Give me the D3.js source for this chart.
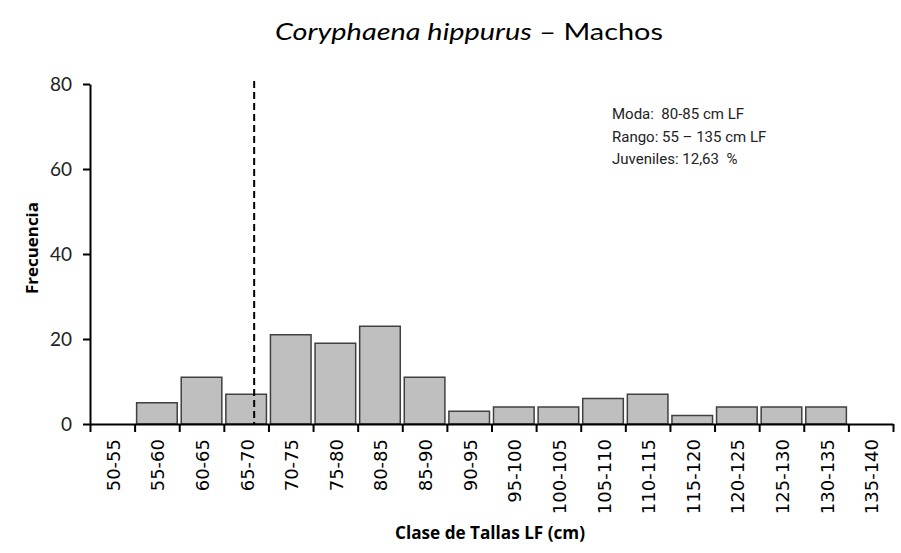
<!DOCTYPE html>
<html lang="es">
<head>
<meta charset="UTF-8"/>
<title>Coryphaena hippurus - Machos</title>
<script src="https://d3js.org/d3.v7.min.js"></script>
<style>
	body { margin: 0; background: #fff; }
</style>
</head>
<body>
<script>
var w = 901;
var h = 553;

// clases de talla (cm LF) y frecuencias
var clases = ["50-55", "55-60", "60-65", "65-70", "70-75", "75-80", "80-85", "85-90", "90-95",
	"95-100", "100-105", "105-110", "110-115", "115-120", "120-125", "125-130", "130-135", "135-140"];
var frecuencias = [0, 5, 11, 7, 21, 19, 23, 11, 3, 4, 4, 6, 7, 2, 4, 4, 4, 0];
var yTicks = [0, 20, 40, 60, 80];
var tallaCorte = 68.4;	// linea discontinua (talla de madurez)
var notas = ["Moda:  80-85 cm LF", "Rango: 55 \u2013 135 cm LF", "Juveniles: 12,63  %"];

var mLeft = 90, mRight = 893, mTop = 84, mBottom = 424;

var limites = clases.map(function (c) { return +c.split("-")[0]; });

var x = d3.scaleLinear()
	.domain([50, 140])
	.range([mLeft, mRight]);

var y = d3.scaleLinear()
	.domain([0, 80])
	.range([mBottom, mTop]);

var svg = d3.select("body")
	.append("svg")
	.attr("width", w)
	.attr("height", h);

// titulo
var title = svg.append("text")
	.attr("x", 469)
	.attr("y", 40)
	.attr("text-anchor", "middle")
	.attr("font-family", "Lato, sans-serif")
	.attr("font-size", "23px")
	.attr("fill", "#000")
	.attr("textLength", 388)
	.attr("lengthAdjust", "spacingAndGlyphs");
title.append("tspan").attr("font-style", "italic").text("Coryphaena hippurus");
title.append("tspan").text(" \u2013 Machos");

// barras
svg.selectAll("rect.bar")
	.data(clases)
	.enter()
	.append("rect")
	.attr("class", "bar")
	.attr("x", function (d, i) { return x(limites[i]) + 2; })
	.attr("width", function (d, i) { return x(limites[i] + 5) - x(limites[i]) - 4; })
	.attr("y", function (d, i) { return y(frecuencias[i]); })
	.attr("height", function (d, i) { return mBottom - y(frecuencias[i]); })
	.attr("fill", "#bfbfbf")
	.attr("stroke", "#404040")
	.attr("stroke-width", 1.5)
	.style("display", function (d, i) { return frecuencias[i] > 0 ? null : "none"; });

// eje y
var yAxis = d3.axisLeft(y)
	.tickValues(yTicks)
	.tickSize(7)
	.tickSizeOuter(0);
var gy = svg.append("g")
	.attr("transform", "translate(" + mLeft + ",0)")
	.call(yAxis);
gy.select(".domain").attr("stroke-width", 2);
gy.selectAll(".tick line").attr("stroke-width", 2);
gy.selectAll(".tick text")
	.attr("font-family", "Lato, sans-serif")
	.attr("font-size", "19px")
	.attr("fill", "#222")
	.attr("x", -18);

// eje x
var xAxis = d3.axisBottom(x)
	.tickValues(d3.range(50, 141, 5))
	.tickFormat("")
	.tickSize(8)
	.tickSizeOuter(0);
var gx = svg.append("g")
	.attr("transform", "translate(0," + mBottom + ")")
	.call(xAxis);
gx.select(".domain").attr("stroke-width", 2);
gx.selectAll(".tick line").attr("stroke-width", 2);

// etiquetas de clase
svg.selectAll("text.clase")
	.data(clases)
	.enter()
	.append("text")
	.attr("class", "clase")
	.attr("transform", function (d, i) {
		return "translate(" + (x(limites[i] + 2.5) + 7.5) + "," + (mBottom + 15) + ") rotate(-90)";
	})
	.attr("text-anchor", "end")
	.attr("font-family", "DejaVu Sans, sans-serif")
	.attr("font-size", "18px")
	.attr("fill", "#000")
	.text(function (d) { return d; });

// linea de talla de corte
svg.append("line")
	.attr("x1", x(tallaCorte))
	.attr("x2", x(tallaCorte))
	.attr("y1", 81)
	.attr("y2", mBottom)
	.attr("stroke", "#000")
	.attr("stroke-width", 2)
	.attr("stroke-dasharray", "7,4");

// titulos de ejes
svg.append("text")
	.attr("transform", "translate(38,248) rotate(-90)")
	.attr("text-anchor", "middle")
	.attr("font-family", "Open Sans, sans-serif")
	.attr("font-weight", "bold")
	.attr("font-size", "16.5px")
	.attr("textLength", 92)
	.attr("lengthAdjust", "spacingAndGlyphs")
	.text("Frecuencia");

svg.append("text")
	.attr("x", 490)
	.attr("y", 539)
	.attr("text-anchor", "middle")
	.attr("font-family", "Open Sans, sans-serif")
	.attr("font-weight", "bold")
	.attr("font-size", "18px")
	.attr("textLength", 190)
	.attr("lengthAdjust", "spacingAndGlyphs")
	.text("Clase de Tallas LF (cm)");

// notas
svg.selectAll("text.nota")
	.data(notas)
	.enter()
	.append("text")
	.attr("class", "nota")
	.attr("x", 612)
	.attr("y", function (d, i) { return 119 + i * 22.5; })
	.attr("font-family", "Liberation Sans Narrow, Roboto, sans-serif")
	.attr("font-size", "15px")
	.attr("fill", "#222")
	.style("white-space", "pre")
	.text(function (d) { return d; });
</script>
</body>
</html>
